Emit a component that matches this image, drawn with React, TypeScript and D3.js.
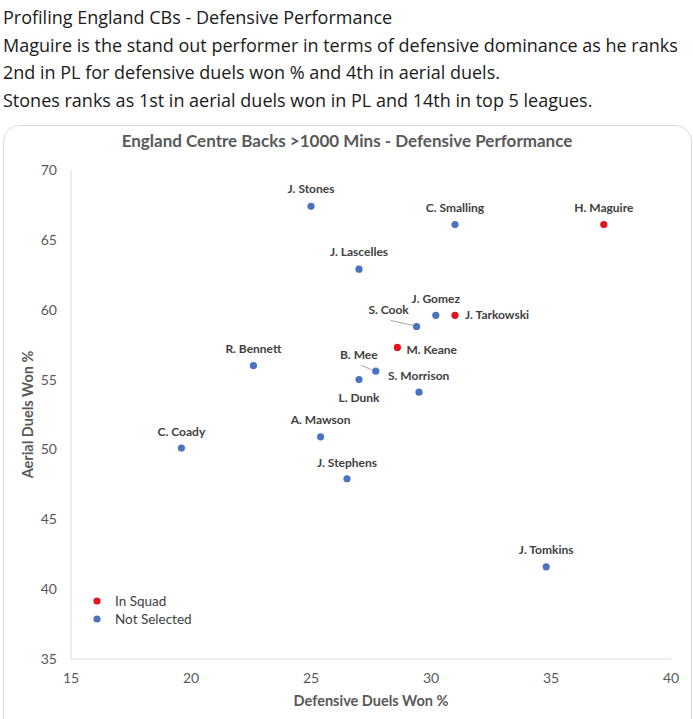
import * as d3 from 'd3';
import React from 'react';

const width = 693;
const height = 719;
const margin = { top: 170, right: 22, bottom: 61, left: 71 };

// tweet text above the chart
const headerLines = [
  'Profiling England CBs - Defensive Performance',
  'Maguire is the stand out performer in terms of defensive dominance as he ranks',
  '2nd in PL for defensive duels won % and 4th in aerial duels.',
  'Stones ranks as 1st in aerial duels won in PL and 14th in top 5 leagues.',
];

const players = [
  'J. Stones', 'C. Smalling', 'H. Maguire', 'J. Lascelles', 'J. Gomez', 'J. Tarkowski',
  'S. Cook', 'M. Keane', 'R. Bennett', 'B. Mee', 'L. Dunk', 'S. Morrison',
  'A. Mawson', 'J. Stephens', 'C. Coady', 'J. Tomkins',
];
const defensiveDuelsWon = [
  25.0, 31.0, 37.2, 27.0, 30.2, 31.0,
  29.4, 28.6, 22.6, 27.7, 27.0, 29.5,
  25.4, 26.5, 19.6, 34.8,
];
const aerialDuelsWon = [
  67.4, 66.1, 66.1, 62.9, 59.6, 59.6,
  58.8, 57.3, 56.0, 55.6, 55.0, 54.1,
  50.9, 47.9, 50.1, 41.6,
];
const inSquad = ['H. Maguire', 'J. Tarkowski', 'M. Keane'];

const xTicks = [15, 20, 25, 30, 35, 40];
const yTicks = [35, 40, 45, 50, 55, 60, 65, 70];
const legendItems = ['In Squad', 'Not Selected'];

const RED = '#e3141c';
const BLUE = '#4a74c0';

// where each label sits relative to its point: [dx, dy, anchor, leader]
const labelPlace: Record<string, [number, number, string, boolean?]> = {
  'J. Stones': [0, -13, 'middle'],
  'C. Smalling': [0, -12, 'middle'],
  'H. Maguire': [0, -12, 'middle'],
  'J. Lascelles': [0, -13, 'middle'],
  'J. Gomez': [0, -12, 'middle'],
  'J. Tarkowski': [10, 4, 'start'],
  'S. Cook': [-28, -12, 'middle', true],
  'M. Keane': [9, 7, 'start'],
  'R. Bennett': [0, -13, 'middle'],
  'B. Mee': [-17, -12, 'middle', true],
  'L. Dunk': [0, 22, 'middle'],
  'S. Morrison': [-31, -12, 'start'],
  'A. Mawson': [0, -13, 'middle'],
  'J. Stephens': [0, -12, 'middle'],
  'C. Coady': [0, -12, 'middle'],
  'J. Tomkins': [0, -13, 'middle'],
};

export default function App() {
  const x = d3.scaleLinear().domain([15, 40]).range([margin.left, margin.left + 600]);
  const y = d3.scaleLinear().domain([35, 70]).range([height - margin.bottom + 1, margin.top]);

  const points = players.map((name, i) => ({
    name,
    cx: x(defensiveDuelsWon[i]),
    cy: y(aerialDuelsWon[i]),
    color: inSquad.includes(name) ? RED : BLUE,
  }));

  const labelFont = 'Lato, "Liberation Sans", sans-serif';

  return (
    <svg
      width={width}
      height={height}
      style={{ position: 'absolute', left: 0, top: 0, background: '#fff' }}
    >
      {headerLines.map((t, i) => (
        <text
          key={i}
          x={3}
          y={24 + i * 27.7}
          fontFamily='"Open Sans", "Noto Sans", sans-serif'
          fontSize={18}
          fill="#1a1a1a"
        >
          {t}
        </text>
      ))}

      <rect
        x={3.5}
        y={125.5}
        width={688}
        height={620}
        rx={16}
        fill="#fff"
        stroke="#d9d9d9"
      />

      <text
        x={347}
        y={147}
        textAnchor="middle"
        fontFamily={labelFont}
        fontWeight="bold"
        fontSize={17}
        fill="#595959"
      >
        England Centre Backs &gt;1000 Mins - Defensive Performance
      </text>

      {/* axes */}
      <line x1={x(15)} x2={x(15)} y1={y(70)} y2={y(35)} stroke="#d9d9d9" />
      <line x1={x(15)} x2={x(40)} y1={y(35)} y2={y(35)} stroke="#d9d9d9" />

      {yTicks.map((t) => (
        <text
          key={t}
          x={57}
          y={y(t) + 5}
          textAnchor="end"
          fontFamily={labelFont}
          fontSize={14}
          fill="#595959"
        >
          {t}
        </text>
      ))}
      {xTicks.map((t) => (
        <text
          key={t}
          x={x(t)}
          y={683}
          textAnchor="middle"
          fontFamily={labelFont}
          fontSize={14}
          fill="#595959"
        >
          {t}
        </text>
      ))}

      <text
        x={x(27.5)}
        y={706}
        textAnchor="middle"
        fontFamily={labelFont}
        fontWeight="bold"
        fontSize={14.5}
        fill="#595959"
      >
        Defensive Duels Won %
      </text>
      <text
        transform={`translate(33, ${y(52.5)}) rotate(-90)`}
        textAnchor="middle"
        fontFamily={labelFont}
        fontWeight="bold"
        fontSize={14.5}
        fill="#595959"
      >
        Aerial Duels Won %
      </text>

      {/* leader lines */}
      {points
        .filter((p) => labelPlace[p.name][3])
        .map((p) => {
          const [dx, dy] = labelPlace[p.name];
          return (
            <line
              key={`l-${p.name}`}
              x1={p.cx + dx + 2}
              y1={p.cy + dy + 6}
              x2={p.cx - 3}
              y2={p.cy - 1}
              stroke="#a6a6a6"
              strokeWidth={1}
            />
          );
        })}

      {points.map((p) => (
        <circle key={p.name} cx={p.cx} cy={p.cy} r={3.6} fill={p.color} />
      ))}

      {points.map((p) => {
        const [dx, dy, anchor] = labelPlace[p.name];
        return (
          <text
            key={`t-${p.name}`}
            x={p.cx + dx}
            y={p.cy + dy}
            textAnchor={anchor}
            fontFamily={labelFont}
            fontWeight="bold"
            fontSize={12}
            fill="#404040"
          >
            {p.name}
          </text>
        );
      })}

      {/* legend */}
      {legendItems.map((item, i) => (
        <g key={item} transform={`translate(97, ${601 + i * 18})`}>
          <circle r={3.6} fill={i === 0 ? RED : BLUE} />
          <text
            x={18}
            y={5}
            fontFamily={labelFont}
            fontSize={13.5}
            fill="#404040"
          >
            {item}
          </text>
        </g>
      ))}
    </svg>
  );
}
